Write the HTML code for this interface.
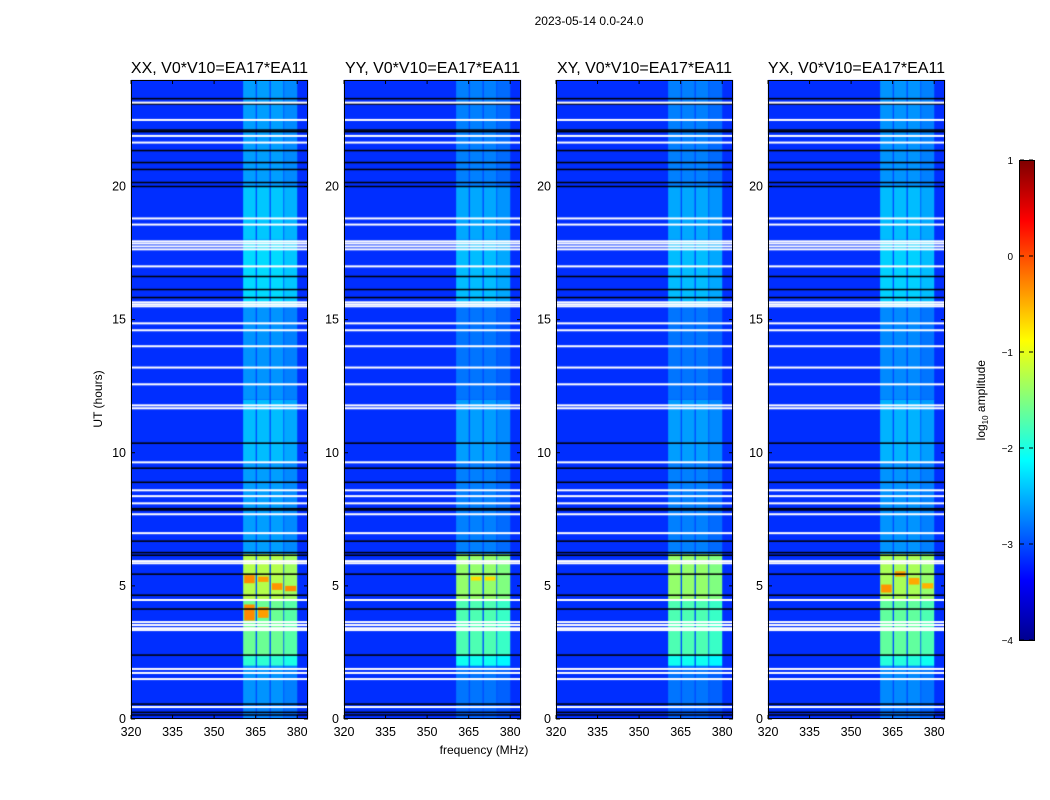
<!DOCTYPE html>
<html><head><meta charset="utf-8">
<style>
body{margin:0;background:#fff;font-family:"Liberation Sans",sans-serif;}
#root{position:relative;width:1050px;height:800px;overflow:hidden;background:#fff;}
.t{position:absolute;white-space:nowrap;color:#000;}
canvas{position:absolute;}
</style></head>
<body>
<div id="root">
<div class="t" style="left:489px;top:14px;width:200px;text-align:center;font-size:12px;">2023-05-14 0.0-24.0</div>
<div class="t" style="left:384px;top:743px;width:200px;text-align:center;font-size:12px;">frequency (MHz)</div>
<div class="t" style="left:48px;top:392px;width:100px;text-align:center;font-size:12px;transform:rotate(-90deg);">UT (hours)</div>
<div class="t" style="left:922px;top:392px;width:120px;text-align:center;font-size:12px;transform:rotate(-90deg);">log<sub style="font-size:8px">10</sub> amplitude</div>
<div style="position:absolute;left:1019px;top:160px;width:14px;height:479px;border:1px solid #000;background:linear-gradient(to top,#00008f 0%,#0000ff 12.5%,#0080ff 25%,#00ffff 37.5%,#80ff80 50%,#ffff00 62.5%,#ff8000 75%,#ff0000 87.5%,#800000 100%);"></div>
<svg id="ov" width="1050" height="800" style="position:absolute;left:0;top:0"></svg>
</div>
<script>
// ---- data ----
const panelNames = ["XX, V0*V10=EA17*EA11","YY, V0*V10=EA17*EA11","XY, V0*V10=EA17*EA11","YX, V0*V10=EA17*EA11"];
const freqTicks = [320,335,350,365,380];
const timeTicks = [0,5,10,15,20];
const cbTicks = [-4,-3,-2,-1,0,1];
const bgLevel = -3.15;
const gapLevel = -3.0;
const stripeStart = [360.5,365.5,370.5,375.3];
const stripeEnd   = [365.0,370.0,375.0,380.0];
const segStart = [0,0.5,2.0,2.4,4.5,6.2,9.6,12.0,15.5,18.0,20.0];
const segEnd   = [0.5,2.0,2.4,4.5,6.2,9.6,12.0,15.5,18.0,20.0,24.0];
const segLevel = [-2.75,-2.65,-1.9,-1.6,-1.25,-2.6,-2.45,-2.65,-2.3,-2.4,-2.6];
const panelGain = [0,-0.15,-0.15,-0.05];
const hotPanel = [0,0,0,0,0,0,3,3,3,3,1,1];
const hotStripe= [0,1,0,1,2,3,0,1,2,3,1,2];
const hotT0    = [3.7,3.8,5.1,5.15,4.85,4.8,4.75,5.35,5.05,4.9,5.2,5.2];
const hotT1    = [4.3,4.2,5.4,5.35,5.1,5.0,5.05,5.55,5.3,5.1,5.35,5.35];
const hotLevel = [-0.3,-0.4,-0.3,-0.4,-0.35,-0.3,-0.35,-0.4,-0.45,-0.5,-0.7,-0.7];
const whiteLines = [0.45,1.5,1.73,1.88,3.34,3.41,3.53,3.64,4.47,5.85,5.93,6.98,7.69,8.1,8.37,8.59,9.64,11.67,11.78,12.57,13.2,14.0,14.6,14.86,15.5,15.57,15.65,17.0,17.64,17.75,17.86,17.94,18.57,18.8,21.65,21.9,22.5,23.15];
const blackLines = [0.15,0.25,0.56,2.4,4.13,4.65,5.44,6.15,6.25,6.68,7.85,7.9,8.89,9.42,10.36,15.83,16.13,16.62,20.0,20.15,20.64,20.9,21.35,22.06,22.12,23.1,23.3];
// ---- geometry ----
const PX=[131,344,556,768], PW=177, PT=80, PB=719;
const fx=(p,f)=>PX[p]+(f-320)*2.77;
const ty=t=>PB-t*(PB-PT)/24;
function jet(v){const t=Math.max(0,Math.min(1,(v+4)/5));const c=x=>Math.round(255*Math.max(0,Math.min(1,x)));
return `rgb(${c(1.5-Math.abs(4*t-3))},${c(1.5-Math.abs(4*t-2))},${c(1.5-Math.abs(4*t-1))})`;}
const root=document.getElementById('root');
const ov=document.getElementById('ov');
const NS='http://www.w3.org/2000/svg';
function sv(tag,a){const e=document.createElementNS(NS,tag);for(const k in a)e.setAttribute(k,a[k]);ov.appendChild(e);return e;}
for(let p=0;p<4;p++){
  const cv=document.createElement('canvas');
  
  
  cv.width=1050;cv.height=800;cv.style.left='0';cv.style.top='0';
  root.insertBefore(cv,ov);
  const g=cv.getContext('2d');
  g.fillStyle=jet(bgLevel);g.fillRect(PX[p],PT,PW,PB-PT);
  for(let s=0;s<segStart.length;s++){
    const y0=ty(segEnd[s]),y1=ty(segStart[s]);
    g.fillStyle=jet(gapLevel);
    g.fillRect(fx(p,stripeStart[0]),y0,fx(p,stripeEnd[3])-fx(p,stripeStart[0]),y1-y0);
    for(let k=0;k<4;k++){
      g.fillStyle=jet(segLevel[s]+panelGain[p]-(k==3?0.1:0));
      g.fillRect(fx(p,stripeStart[k]),y0,fx(p,stripeEnd[k])-fx(p,stripeStart[k]),y1-y0);
    }
  }
  for(let h=0;h<hotPanel.length;h++){
    if(hotPanel[h]!==p)continue;const k=hotStripe[h];
    g.fillStyle=jet(hotLevel[h]);
    g.fillRect(fx(p,stripeStart[k])+1,ty(hotT1[h]),fx(p,stripeEnd[k])-fx(p,stripeStart[k])-2,ty(hotT0[h])-ty(hotT1[h]));
  }
  g.fillStyle='#000';
  blackLines.forEach(t=>g.fillRect(PX[p],ty(t)-0.75,PW,1.5));
  g.fillStyle='#fff';
  whiteLines.forEach(t=>g.fillRect(PX[p],ty(t)-1,PW,2));
  sv('rect',{x:PX[p]+0.5,y:PT+0.5,width:PW-1,height:PB-PT-1,fill:'none',stroke:'#000','stroke-width':1});
  const ti=sv('text',{x:PX[p]+PW/2,y:73,'text-anchor':'middle','font-size':16,'font-family':'Liberation Sans, sans-serif'});
  ti.textContent=panelNames[p];
  
  
  freqTicks.forEach(f=>{const x=fx(p,f);
    sv('line',{x1:x,y1:PB,x2:x,y2:PB-4,stroke:'#000'});sv('line',{x1:x,y1:PT,x2:x,y2:PT+4,stroke:'#000'});
    const tl=sv('text',{x:x,y:736,'text-anchor':'middle','font-size':12.5,'font-family':'Liberation Sans, sans-serif'});tl.textContent=f;
    
    });
  timeTicks.forEach(t=>{const y=ty(t);
    sv('line',{x1:PX[p],y1:y,x2:PX[p]+4,y2:y,stroke:'#000'});sv('line',{x1:PX[p]+PW,y1:y,x2:PX[p]+PW-4,y2:y,stroke:'#000'});
    const tl=sv('text',{x:PX[p]-5,y:y+4,'text-anchor':'end','font-size':12.5,'font-family':'Liberation Sans, sans-serif'});tl.textContent=t;
    
    });
}
cbTicks.forEach(v=>{const y=640-(v+4)*96;
  sv('line',{x1:1020,y1:y,x2:1024,y2:y,stroke:'#000'});sv('line',{x1:1033,y1:y,x2:1029,y2:y,stroke:'#000'});
  const tl=sv('text',{x:1013,y:y+4,'text-anchor':'end','font-size':10,'font-family':'Liberation Sans, sans-serif'});
  tl.textContent=(v<0?'\u2212':'')+Math.abs(v);
  
  });
</script>
</body></html>
